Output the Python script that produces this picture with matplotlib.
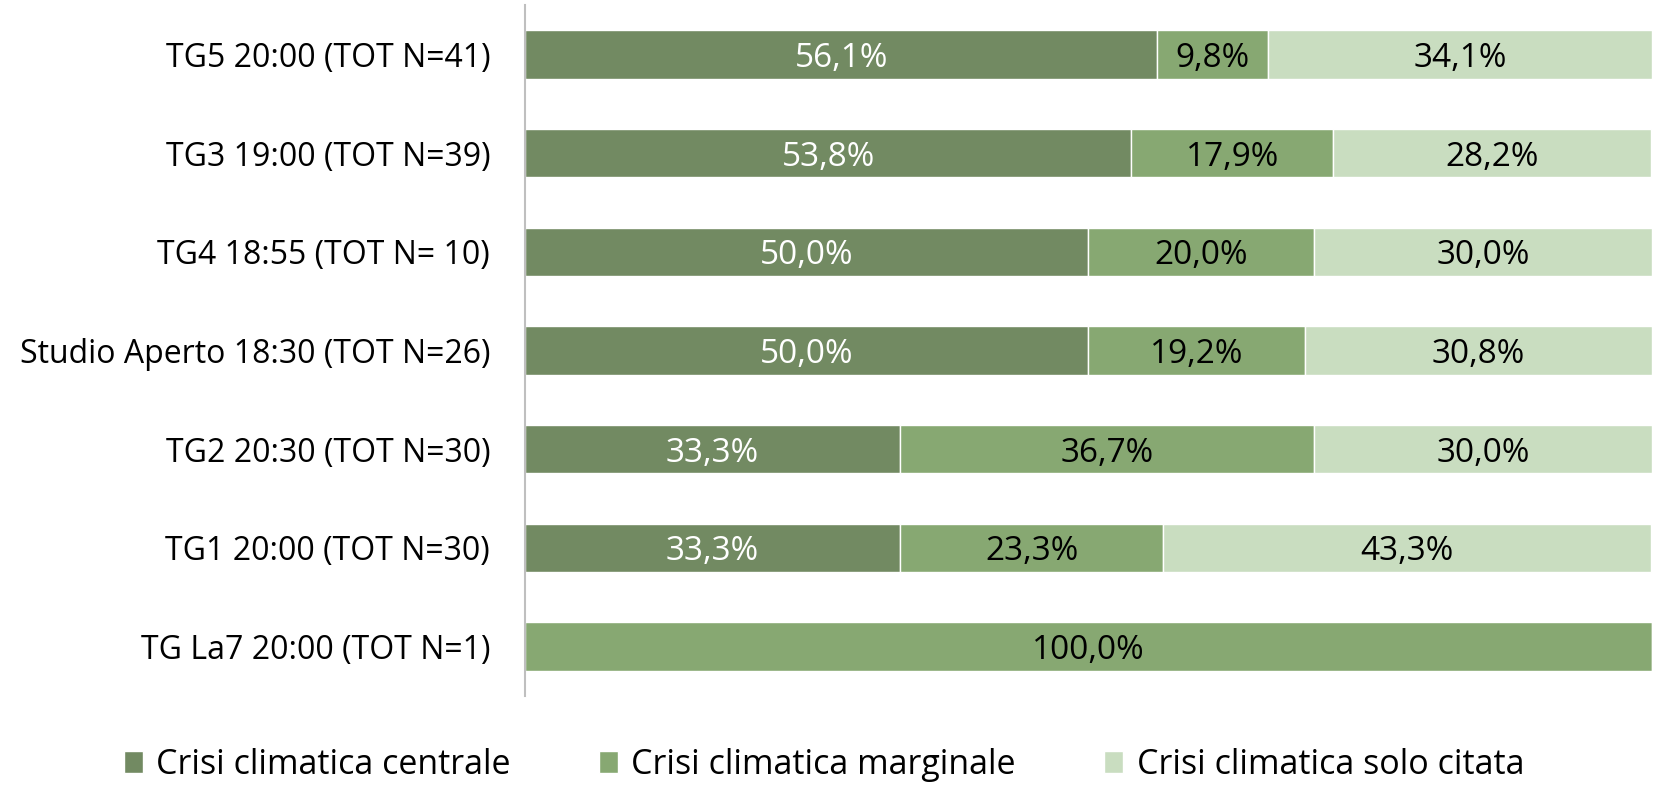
import matplotlib.pyplot as plt
import numpy as np

plt.rcParams['font.family'] = ['Open Sans', 'DejaVu Sans']

# data, top to bottom as in the chart
channels = ["TG5 20:00 (TOT N=41)", "TG3 19:00 (TOT N=39)", "TG4 18:55 (TOT N= 10)",
            "Studio Aperto 18:30 (TOT N=26)", "TG2 20:30 (TOT N=30)", "TG1 20:00 (TOT N=30)",
            "TG La7 20:00 (TOT N=1)"]
centrale = np.array([56.1, 53.8, 50.0, 50.0, 33.3, 33.3, 0.0])
marginale = np.array([9.8, 17.9, 20.0, 19.2, 36.7, 23.3, 100.0])
citata = np.array([34.1, 28.2, 30.0, 30.8, 30.0, 43.3, 0.0])
series_names = ["Crisi climatica centrale", "Crisi climatica marginale", "Crisi climatica solo citata"]
colors = ["#728A62", "#87A872", "#C9DDC0"]
text_colors = ["white", "black", "black"]

fig = plt.figure(figsize=(16.58, 7.92), dpi=100)
ax = fig.add_axes([0.3166, 0.1212, 0.6798, 0.8725])

y = np.arange(len(channels))
left = np.zeros(len(channels))
handles = []
for vals, name, col, tcol in zip([centrale, marginale, citata], series_names, colors, text_colors):
    bars = ax.barh(y, vals, left=left, height=0.49, color=col, edgecolor='white', linewidth=1, label=name)
    handles.append(bars)
    for yi, v, l in zip(y, vals, left):
        if v > 0:
            ax.text(l + v / 2, yi, f"{v:.1f}%".replace('.', ','), ha='center', va='center_baseline',
                    color=tcol, fontsize=24)
    left = left + vals

ax.set_xlim(0, 100)
ax.set_ylim(len(channels) - 0.5, -0.5)
ax.set_yticks(y)
ax.set_yticklabels(channels, fontsize=23)
ax.set_xticks([])
for s in ['top', 'right', 'bottom']:
    ax.spines[s].set_visible(False)
ax.spines['left'].set_color('#BFBFBF')
ax.spines['left'].set_linewidth(1.5)
ax.tick_params(axis='y', length=0, pad=25)

fig.legend(handles=handles, labels=series_names, loc='center', bbox_to_anchor=(0.497, 0.034),
           ncol=3, frameon=False, fontsize=24.5, handlelength=0.55, handleheight=0.65,
           handletextpad=0.4, columnspacing=2.6)

fig.savefig("out.png", dpi=100)
